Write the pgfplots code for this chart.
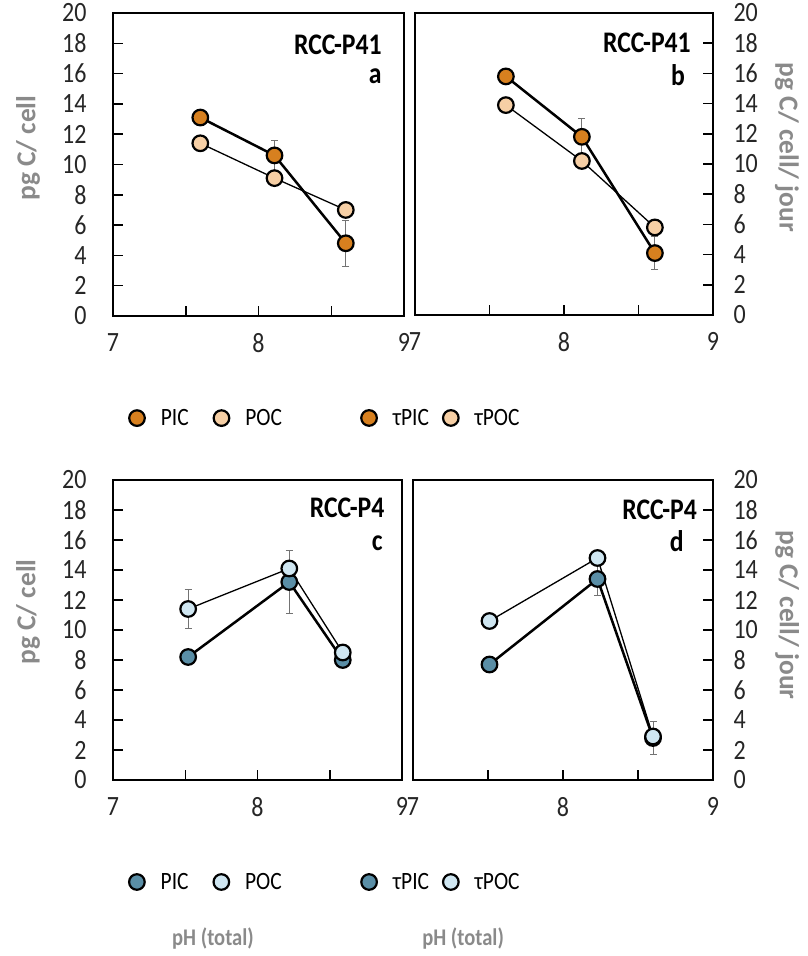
\documentclass[border=0pt]{standalone}
\usepackage{fontspec}
\setmainfont{Carlito}[FakeStretch=0.86]
\newfontfamily\plainfont{Carlito}
\usepackage{pgfplots}
\pgfplotsset{compat=1.18}
\definecolor{picO}{HTML}{D7801F}
\definecolor{pocO}{HTML}{F6CFA5}
\definecolor{picB}{HTML}{5A8EA6}
\definecolor{pocB}{HTML}{CFE6F1}
\definecolor{lblgray}{HTML}{8A8A8A}
\tikzset{lbl/.style={anchor=east, inner sep=0pt, font=\bfseries\fontsize{30}{30}\selectfont}}
\pgfplotsset{
 panel/.style={
  scale only axis, anchor=south west,
  xmin=7, xmax=9, ymin=0, ymax=20,
  xtick={7,8,9}, minor xtick={7.5,8.5},
  ytick={0,2,...,20},
  tick align=inside,
  xtick pos=bottom,
  major tick length=10bp, minor tick length=10bp,
  every tick/.style={black, line width=1.5bp},
  every minor tick/.style={black, line width=1.5bp},
  axis line style={line width=2.5bp},
  ticklabel style={font=\fontsize{28}{28}\selectfont, text=black!85},
  /pgf/number format/assume math mode=true,
  xticklabel style={yshift=-14bp},
  clip=false,
  ylabel style={font=\plainfont\bfseries\fontsize{27.5}{27.5}\selectfont, text=lblgray, anchor=center},
  xlabel style={font=\bfseries\fontsize{24}{24}\selectfont, text=lblgray, anchor=center},
  legend columns=2,
  legend cell align=left,
  legend image code/.code={\draw[mark repeat=2,mark phase=2,#1] plot coordinates {(0bp,0bp) (9bp,0bp) (18bp,0bp)};},
  legend style={draw=none, fill=none, inner sep=0pt, anchor=west, font=\fontsize{25}{25}\selectfont,
    /tikz/every odd column/.append style={column sep=14bp}},
 },
 leftpanel/.style={ytick pos=left, yticklabel style={xshift=-23bp}},
 rightpanel/.style={ytick pos=right, yticklabel style={xshift=17bp}, ylabel style={rotate=180}},
 pic/.style={line width=2.5bp, black, mark=*, mark size=7.8bp, mark options={line width=2.2bp, fill=#1, draw=black}},
 poc/.style={line width=1.3bp, black, mark=*, mark size=7.8bp, mark options={line width=2.2bp, fill=#1, draw=black}},
 legpic/.style={only marks, mark=*, mark size=7.8bp, mark options={line width=2.2bp, fill=#1, draw=black}},
 errs/.style={forget plot, only marks, mark=none,
   error bars/.cd, y dir=both, y explicit,
   error bar style={line width=0.9bp, draw=black!55},
   error mark options={rotate=90, mark size=3.5bp, line width=0.9bp, draw=black!55}},
}
\begin{document}
\begin{tikzpicture}
\useasboundingbox (0,0) rectangle (808bp,956bp);
% panel a
\begin{axis}[panel, leftpanel, at={(113bp,640bp)}, width=291bp, height=303bp,
  ylabel={pg C/ cell}, ylabel style={at={(axis description cs:-0.292,0.554)}},
  legend style={at={(axis description cs:0.055,-0.337)}, /tikz/every even column/.append style={column sep=23bp}}]
\addplot[errs] coordinates {(8.11,10.6) +- (0,1.0) (8.60,4.8) +- (0,1.5)};
\addplot[poc=pocO, forget plot] coordinates {(7.60,11.4) (8.11,9.1) (8.60,7.0)};
\addplot[pic=picO, forget plot] coordinates {(7.60,13.1) (8.11,10.6) (8.60,4.8)};
\addlegendimage{legpic=picO}\addlegendentry{PIC}
\addlegendimage{legpic=pocO}\addlegendentry{POC}
\node[lbl] at (axis description cs:0.924,0.894) {RCC-P41};
\node[lbl] at (axis description cs:0.924,0.79) {a};
\end{axis}
% panel b
\begin{axis}[panel, rightpanel, at={(415bp,641bp)}, width=298bp, height=302bp,
  ylabel={pg C/ cell/ jour}, ylabel style={at={(axis description cs:1.248,0.555)}},
  legend style={at={(axis description cs:-0.181,-0.341)}, /tikz/every even column/.append style={column sep=12bp}}]
\addplot[errs] coordinates {(8.12,11.8) +- (0,1.2) (8.61,4.1) +- (0,1.1)};
\addplot[poc=pocO, forget plot] coordinates {(7.61,13.9) (8.12,10.2) (8.61,5.8)};
\addplot[pic=picO, forget plot] coordinates {(7.61,15.8) (8.12,11.8) (8.61,4.1)};
\addlegendimage{legpic=picO}\addlegendentry{τPIC}
\addlegendimage{legpic=pocO}\addlegendentry{τPOC}
\node[lbl] at (axis description cs:0.926,0.90) {RCC-P41};
\node[lbl] at (axis description cs:0.906,0.795) {b};
\end{axis}
% panel c
\begin{axis}[panel, leftpanel, at={(113bp,176bp)}, width=289bp, height=300bp,
  ylabel={pg C/ cell}, ylabel style={at={(axis description cs:-0.294,0.56)}},
  xlabel={pH (total)}, xlabel style={at={(axis description cs:0.346,-0.527)}},
  legend style={at={(axis description cs:0.055,-0.34)}, /tikz/every even column/.append style={column sep=23bp}}]
\addplot[errs] coordinates {(7.52,11.4) +- (0,1.3) (8.22,13.2) +- (0,2.1) (8.22,14.1) +- (0,1.2)};
\addplot[pic=picB, forget plot] coordinates {(7.52,8.2) (8.22,13.2) (8.59,8.0)};
\addplot[poc=pocB, forget plot] coordinates {(7.52,11.4) (8.22,14.1) (8.59,8.5)};
\addlegendimage{legpic=picB}\addlegendentry{PIC}
\addlegendimage{legpic=pocB}\addlegendentry{POC}
\node[lbl] at (axis description cs:0.94,0.907) {RCC-P4};
\node[lbl] at (axis description cs:0.934,0.79) {c};
\end{axis}
% panel d
\begin{axis}[panel, rightpanel, at={(413bp,176bp)}, width=300bp, height=300bp,
  ylabel={pg C/ cell/ jour}, ylabel style={at={(axis description cs:1.247,0.55)}},
  xlabel={pH (total)}, xlabel style={at={(axis description cs:0.167,-0.527)}},
  legend style={at={(axis description cs:-0.173,-0.34)}, /tikz/every even column/.append style={column sep=12bp}}]
\addplot[errs] coordinates {(8.23,13.4) +- (0,1.1) (8.60,2.8) +- (0,1.1)};
\addplot[pic=picB, forget plot] coordinates {(7.51,7.7) (8.23,13.4) (8.60,2.8)};
\addplot[poc=pocB, forget plot] coordinates {(7.51,10.6) (8.23,14.8) (8.60,2.9)};
\addlegendimage{legpic=picB}\addlegendentry{τPIC}
\addlegendimage{legpic=pocB}\addlegendentry{τPOC}
\node[lbl] at (axis description cs:0.947,0.90) {RCC-P4};
\node[lbl] at (axis description cs:0.903,0.795) {d};
\end{axis}
\end{tikzpicture}
\end{document}
